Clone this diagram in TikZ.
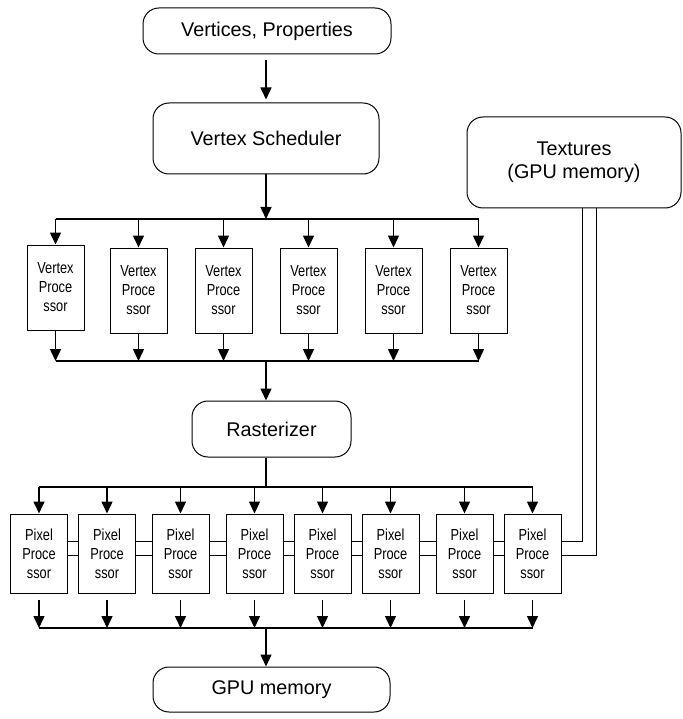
\documentclass[tikz,border=0pt]{standalone}
\usepackage{fontspec}
\setmainfont{Liberation Sans}
\newfontfamily\narrowsf{Liberation Sans}[FakeStretch=0.8]
\usetikzlibrary{arrows.meta}

\begin{document}
\begin{tikzpicture}[x=1pt,y=-1pt,
  stage/.style={draw,rounded corners=16pt,line width=1pt,inner sep=0pt,
    font=\fontsize{19.8}{23}\selectfont,align=center},
  proc/.style={draw,line width=1pt,inner sep=0pt,minimum width=57pt,
    font=\narrowsf\fontsize{16}{19}\selectfont,align=center},
  vproc/.style={proc,minimum height=85pt},
  pproc/.style={proc,minimum height=79pt},
  flow/.style={-{Triangle[length=12pt,width=11pt]},line width=1.5pt},
  bus/.style={line width=1.5pt},
  link/.style={line width=1pt}]
  \useasboundingbox (0,0) rectangle (682,719);
  \node[stage,minimum width=248pt,minimum height=46pt] (VP) at (267,31)
    {Vertices, Properties};
  \node[stage,minimum width=226pt,minimum height=71pt] (VS) at (266,138.5)
    {Vertex Scheduler};
  \node[stage,minimum width=214pt,minimum height=91pt] (TX) at (574,162.5)
    {Textures\\(GPU memory)};
  \node[vproc] (V1) at ( 55.5,287.5) {Vertex\\Proce\\ssor};
  \node[vproc] (V2) at (138.5,290.5) {Vertex\\Proce\\ssor};
  \node[vproc] (V3) at (223.5,290.5) {Vertex\\Proce\\ssor};
  \node[vproc] (V4) at (308.5,290.5) {Vertex\\Proce\\ssor};
  \node[vproc] (V5) at (393.5,290.5) {Vertex\\Proce\\ssor};
  \node[vproc] (V6) at (478.5,290.5) {Vertex\\Proce\\ssor};
  \node[stage,minimum width=159pt,minimum height=56pt] (RS) at (271.5,429)
    {Rasterizer};
  \node[pproc] (P1) at ( 39.0,553.5) {Pixel\\Proce\\ssor};
  \node[pproc] (P2) at (107.0,553.5) {Pixel\\Proce\\ssor};
  \node[pproc] (P3) at (180.5,553.5) {Pixel\\Proce\\ssor};
  \node[pproc] (P4) at (254.5,553.5) {Pixel\\Proce\\ssor};
  \node[pproc] (P5) at (322.5,553.5) {Pixel\\Proce\\ssor};
  \node[pproc] (P6) at (390.5,553.5) {Pixel\\Proce\\ssor};
  \node[pproc] (P7) at (464.5,553.5) {Pixel\\Proce\\ssor};
  \node[pproc] (P8) at (532.5,553.5) {Pixel\\Proce\\ssor};
  \node[stage,minimum width=237pt,minimum height=45pt] (GM) at (271.5,689.5)
    {GPU memory};
  % bus ends
  \coordinate (vin)  at ( 55.5,219);
  \coordinate (vout) at ( 55.5,361);
  \coordinate (pin)  at ( 39.0,487);
  \coordinate (pout) at ( 39.0,628);
  % vertex stage
  \draw[flow,shorten <=6pt,shorten >=3pt] (VS.south |- VP.south) -- (VS.north);
  \draw[flow] (VS.south) -- (VS.south |- vin);
  \draw[bus] (vin) -- (V6 |- vin);
  \draw[flow] (V1 |- vin) -- (V1.north);
  \draw[flow] (V2 |- vin) -- (V2.north);
  \draw[flow] (V3 |- vin) -- (V3.north);
  \draw[flow] (V4 |- vin) -- (V4.north);
  \draw[flow] (V5 |- vin) -- (V5.north);
  \draw[flow] (V6 |- vin) -- (V6.north);
  \draw[flow] (V1.south) -- (V1 |- vout);
  \draw[flow] (V2.south) -- (V2 |- vout);
  \draw[flow] (V3.south) -- (V3 |- vout);
  \draw[flow] (V4.south) -- (V4 |- vout);
  \draw[flow] (V5.south) -- (V5 |- vout);
  \draw[flow] (V6.south) -- (V6 |- vout);
  \draw[bus] (vout) -- (V6 |- vout);
  \draw[flow] (VS.south |- vout) -- (VS.south |- RS.north);
  % pixel stage
  \draw[bus] (VS.south |- RS.south) -- (VS.south |- pin);
  \draw[bus] (pin) -- (P8 |- pin);
  \draw[flow] (P1 |- pin) -- (P1.north);
  \draw[flow] (P2 |- pin) -- (P2.north);
  \draw[flow] (P3 |- pin) -- (P3.north);
  \draw[flow] (P4 |- pin) -- (P4.north);
  \draw[flow] (P5 |- pin) -- (P5.north);
  \draw[flow] (P6 |- pin) -- (P6.north);
  \draw[flow] (P7 |- pin) -- (P7.north);
  \draw[flow] (P8 |- pin) -- (P8.north);
  \draw[link] ([yshift=12.5pt]P1.east) -- ([yshift=12.5pt]P2.west)
    ([yshift=-1.5pt]P1.east) -- ([yshift=-1.5pt]P2.west);
  \draw[link] ([yshift=12.5pt]P2.east) -- ([yshift=12.5pt]P3.west)
    ([yshift=-1.5pt]P2.east) -- ([yshift=-1.5pt]P3.west);
  \draw[link] ([yshift=12.5pt]P3.east) -- ([yshift=12.5pt]P4.west)
    ([yshift=-1.5pt]P3.east) -- ([yshift=-1.5pt]P4.west);
  \draw[link] ([yshift=12.5pt]P4.east) -- ([yshift=12.5pt]P5.west)
    ([yshift=-1.5pt]P4.east) -- ([yshift=-1.5pt]P5.west);
  \draw[link] ([yshift=12.5pt]P5.east) -- ([yshift=12.5pt]P6.west)
    ([yshift=-1.5pt]P5.east) -- ([yshift=-1.5pt]P6.west);
  \draw[link] ([yshift=12.5pt]P6.east) -- ([yshift=12.5pt]P7.west)
    ([yshift=-1.5pt]P6.east) -- ([yshift=-1.5pt]P7.west);
  \draw[link] ([yshift=12.5pt]P7.east) -- ([yshift=12.5pt]P8.west)
    ([yshift=-1.5pt]P7.east) -- ([yshift=-1.5pt]P8.west);
  % texture fetch lines
  \draw[link] ([yshift=12.5pt]P8.east) -| ([xshift=8pt]TX.south);
  \draw[link] ([yshift=-1.5pt]P8.east) -| ([xshift=22pt]TX.south);
  \draw[flow] ([yshift=-6pt]P1.south) -- (P1 |- pout);
  \draw[flow] ([yshift=-6pt]P2.south) -- (P2 |- pout);
  \draw[flow] ([yshift=-6pt]P3.south) -- (P3 |- pout);
  \draw[flow] ([yshift=-6pt]P4.south) -- (P4 |- pout);
  \draw[flow] ([yshift=-6pt]P5.south) -- (P5 |- pout);
  \draw[flow] ([yshift=-6pt]P6.south) -- (P6 |- pout);
  \draw[flow] ([yshift=-6pt]P7.south) -- (P7 |- pout);
  \draw[flow] ([yshift=-6pt]P8.south) -- (P8 |- pout);
  \draw[bus] (pout) -- (P8 |- pout);
  \draw[flow] (VS.south |- pout) -- (VS.south |- GM.north);
\end{tikzpicture}
\end{document}
